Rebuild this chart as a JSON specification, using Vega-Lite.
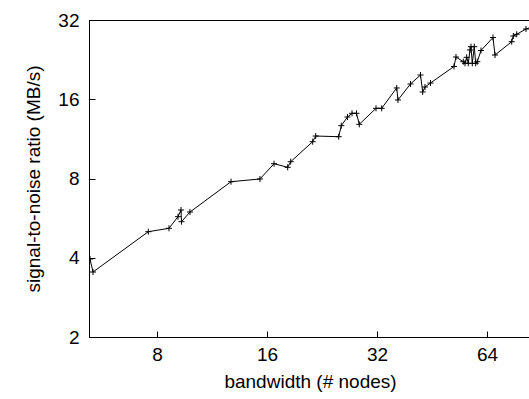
{
  "$schema": "https://vega.github.io/schema/vega-lite/v6.json",
  "width": 442,
  "height": 317,
  "autosize": "none",
  "padding": {"left": 89, "top": 20, "right": 0, "bottom": 62},
  "background": "white",
  "config": {
    "view": {"stroke": "black", "strokeWidth": 1},
    "font": "Liberation Sans",
    "axis": {"grid": false, "domainColor": "black", "tickColor": "black", "labelColor": "black", "titleColor": "black", "labelFont": "Liberation Sans", "titleFont": "Liberation Sans", "labelFontSize": 19, "titleFontSize": 19, "titleFontWeight": "normal"}
  },
  "data": {"values": [
    {"nodes": 5.243, "snr": 3.956},
    {"nodes": 5.343, "snr": 3.531},
    {"nodes": 7.571, "snr": 5.024},
    {"nodes": 8.625, "snr": 5.175},
    {"nodes": 9.129, "snr": 5.728},
    {"nodes": 9.302, "snr": 6.074},
    {"nodes": 9.332, "snr": 5.483},
    {"nodes": 9.845, "snr": 5.968},
    {"nodes": 12.75, "snr": 7.78},
    {"nodes": 15.30, "snr": 7.966},
    {"nodes": 16.72, "snr": 9.105},
    {"nodes": 18.22, "snr": 8.823},
    {"nodes": 18.57, "snr": 9.266},
    {"nodes": 21.33, "snr": 11.04},
    {"nodes": 21.74, "snr": 11.60},
    {"nodes": 25.13, "snr": 11.53},
    {"nodes": 25.54, "snr": 12.70},
    {"nodes": 26.56, "snr": 13.70},
    {"nodes": 27.33, "snr": 14.15},
    {"nodes": 28.11, "snr": 14.15},
    {"nodes": 28.61, "snr": 12.85},
    {"nodes": 31.79, "snr": 14.78},
    {"nodes": 32.95, "snr": 14.78},
    {"nodes": 36.22, "snr": 17.66},
    {"nodes": 36.51, "snr": 15.90},
    {"nodes": 39.51, "snr": 18.29},
    {"nodes": 42.08, "snr": 19.78},
    {"nodes": 42.66, "snr": 17.05},
    {"nodes": 43.28, "snr": 17.81},
    {"nodes": 44.81, "snr": 18.44},
    {"nodes": 51.97, "snr": 21.31},
    {"nodes": 52.62, "snr": 23.15},
    {"nodes": 55.10, "snr": 22.22},
    {"nodes": 55.70, "snr": 21.91},
    {"nodes": 56.29, "snr": 23.09},
    {"nodes": 56.86, "snr": 21.91},
    {"nodes": 57.48, "snr": 24.62},
    {"nodes": 57.84, "snr": 25.34},
    {"nodes": 58.32, "snr": 21.91},
    {"nodes": 59.06, "snr": 25.34},
    {"nodes": 59.58, "snr": 21.91},
    {"nodes": 60.18, "snr": 22.22},
    {"nodes": 61.60, "snr": 24.51},
    {"nodes": 66.44, "snr": 27.46},
    {"nodes": 67.29, "snr": 23.56},
    {"nodes": 74.75, "snr": 26.47},
    {"nodes": 75.51, "snr": 27.82},
    {"nodes": 77.14, "snr": 28.24},
    {"nodes": 81.80, "snr": 29.57},
    {"nodes": 89.3, "snr": 30.9}
  ]},
  "encoding": {
    "x": {"field": "nodes", "type": "quantitative",
      "scale": {"type": "log", "base": 2, "domain": [5.21, 84.42], "nice": false},
      "axis": {"title": "bandwidth (# nodes)", "values": [8, 16, 32, 64], "tickSize": -6, "labelPadding": 14, "titlePadding": 8, "labelFlush": false}},
    "y": {"field": "snr", "type": "quantitative",
      "scale": {"type": "log", "base": 2, "domain": [2, 32], "nice": false},
      "axis": {"title": "signal-to-noise ratio (MB/s)", "values": [2, 4, 8, 16, 32], "tickSize": -6, "labelPadding": 16, "titlePadding": 14, "labelFlush": false}}
  },
  "layer": [
    {"mark": {"type": "line", "color": "black", "strokeWidth": 1, "clip": true}},
    {"mark": {"type": "point", "shape": "M-1,0H1M0,-1V1", "size": 36, "filled": false, "stroke": "black", "strokeWidth": 1, "opacity": 1, "clip": true}}
  ]
}
